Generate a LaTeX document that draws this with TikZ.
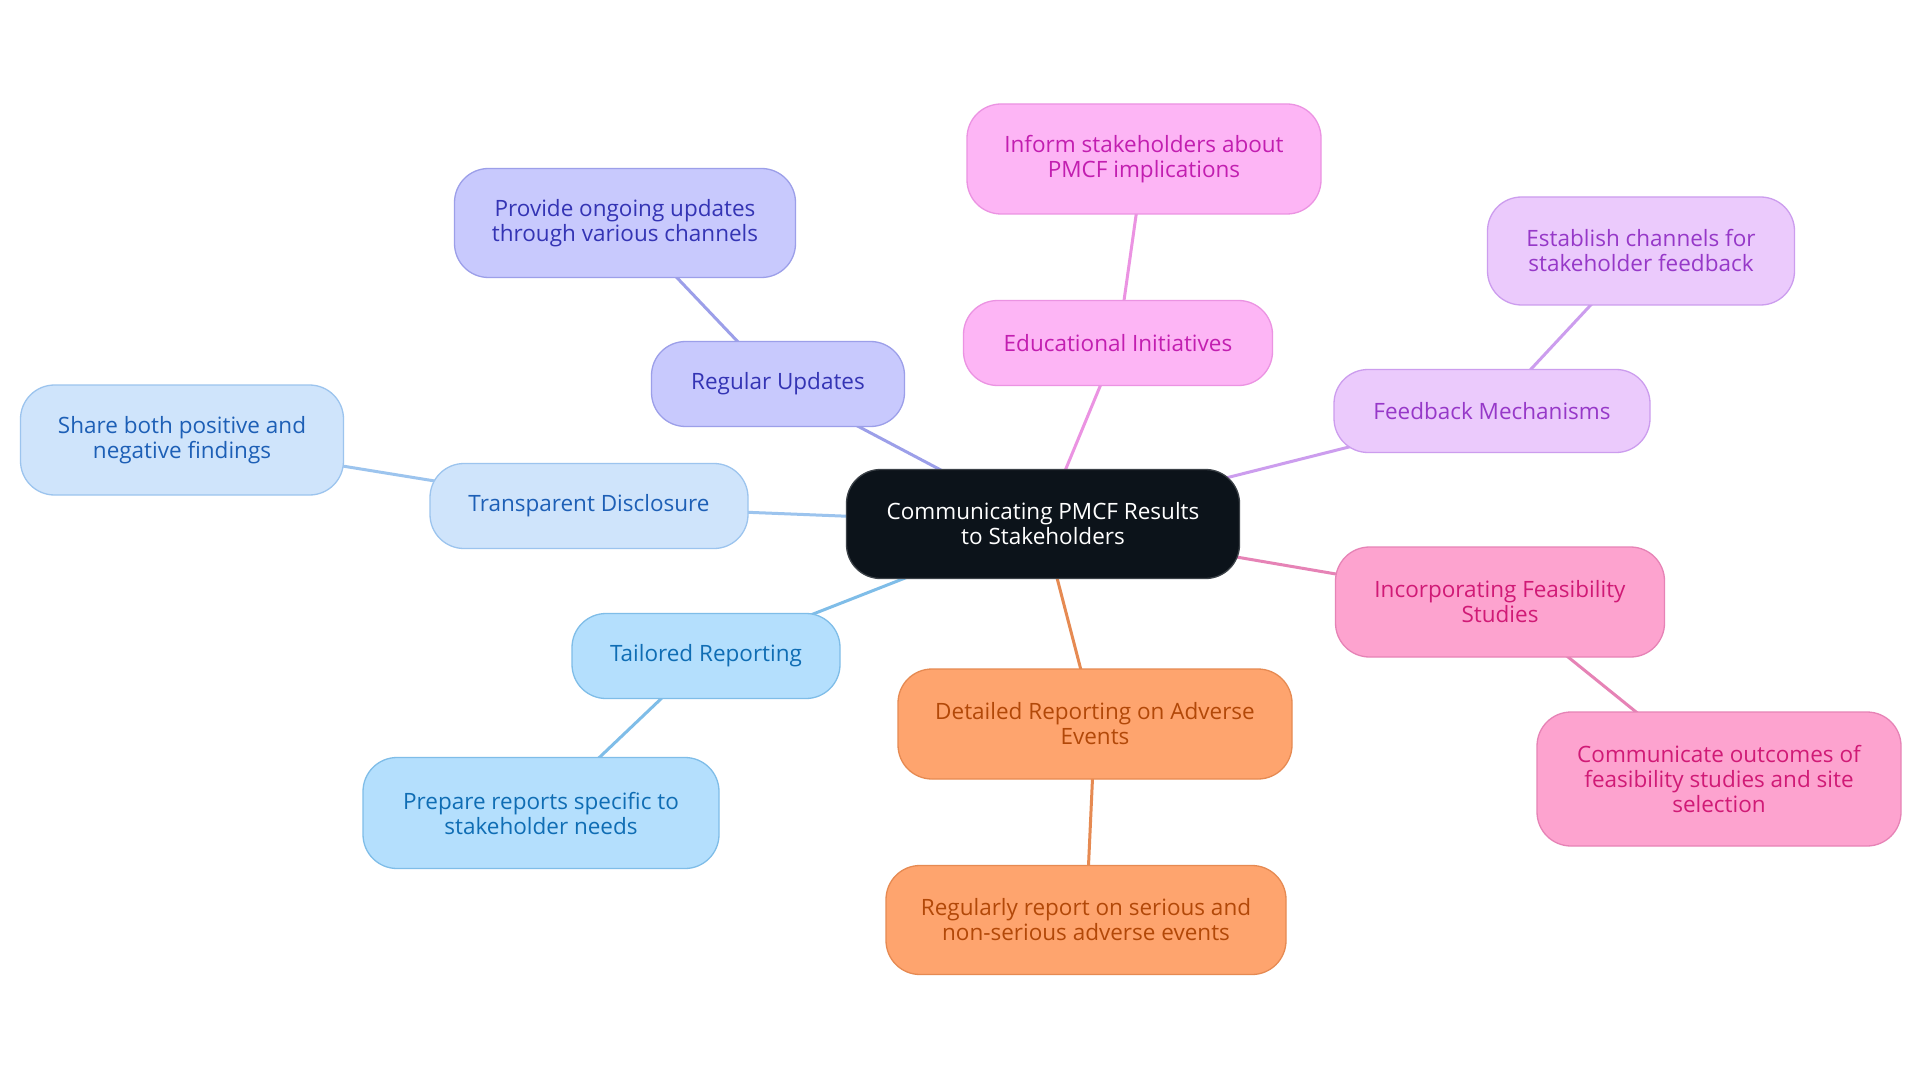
\documentclass[tikz,border=0pt]{standalone}
\usepackage{fontspec}
\setmainfont{Open Sans}
\usetikzlibrary{backgrounds}
\definecolor{cfill}{HTML}{0C131A}\definecolor{cbord}{HTML}{3C4248}
\definecolor{rufill}{HTML}{C8C9FD}\definecolor{rubord}{HTML}{9C9FE9}\definecolor{rutext}{HTML}{3434B4}
\definecolor{tdfill}{HTML}{CFE4FB}\definecolor{tdbord}{HTML}{9CC4EE}\definecolor{tdtext}{HTML}{1D5FB6}
\definecolor{trfill}{HTML}{B4DFFD}\definecolor{trbord}{HTML}{7FBDE8}\definecolor{trtext}{HTML}{0F6DB4}
\definecolor{edfill}{HTML}{FDB5F5}\definecolor{edbord}{HTML}{EB93E2}\definecolor{edtext}{HTML}{C21EB0}
\definecolor{fbfill}{HTML}{EBCAFC}\definecolor{fbbord}{HTML}{CC9DEE}\definecolor{fbtext}{HTML}{9638C8}
\definecolor{iffill}{HTML}{FDA3CF}\definecolor{ifbord}{HTML}{E683B6}\definecolor{iftext}{HTML}{D01A76}
\definecolor{drfill}{HTML}{FEA46E}\definecolor{drbord}{HTML}{E68A52}\definecolor{drtext}{HTML}{B24808}
\tikzset{
  x=1pt, y=-1pt,
  box/.style={rounded corners=34pt, line width=1.3pt, align=center, inner sep=0pt,
    font=\fontsize{22.5}{25}\selectfont},
  boxc/.style={box, fill=cfill, draw=cbord, text=white},
  boxru/.style={box, fill=rufill, draw=rubord, text=rutext},
  boxtd/.style={box, fill=tdfill, draw=tdbord, text=tdtext},
  boxtr/.style={box, fill=trfill, draw=trbord, text=trtext},
  boxed/.style={box, fill=edfill, draw=edbord, text=edtext},
  boxfb/.style={box, fill=fbfill, draw=fbbord, text=fbtext},
  boxif/.style={box, fill=iffill, draw=ifbord, text=iftext},
  boxdr/.style={box, fill=drfill, draw=drbord, text=drtext},
  link/.style={line width=3pt}
}
\begin{document}
\begin{tikzpicture}
\useasboundingbox (0,0) rectangle (1920,1083);
\node[boxc, minimum width=393pt, minimum height=109pt] (c) at (1043,524) {Communicating PMCF Results\\to Stakeholders};
\node[boxru, minimum width=253pt, minimum height=85pt] (ru) at (778,384) {Regular Updates};
\node[boxru, minimum width=341pt, minimum height=109pt] (ru1) at (625,223) {Provide ongoing updates\\through various channels};
\node[boxtd, minimum width=318pt, minimum height=85pt] (td) at (589,506) {Transparent Disclosure};
\node[boxtd, minimum width=323pt, minimum height=110pt] (td1) at (182,440) {Share both positive and\\negative findings};
\node[boxtr, minimum width=268pt, minimum height=85pt] (tr) at (706,656) {Tailored Reporting};
\node[boxtr, minimum width=356pt, minimum height=111pt] (tr1) at (541,813) {Prepare reports specific to\\stakeholder needs};
\node[boxed, minimum width=309pt, minimum height=85pt] (ed) at (1118,343) {Educational Initiatives};
\node[boxed, minimum width=354pt, minimum height=110pt] (ed1) at (1144,159) {Inform stakeholders about\\PMCF implications};
\node[boxfb, minimum width=316pt, minimum height=83pt] (fb) at (1492,411) {Feedback Mechanisms};
\node[boxfb, minimum width=307pt, minimum height=108pt] (fb1) at (1641,251) {Establish channels for\\stakeholder feedback};
\node[boxif, minimum width=329pt, minimum height=110pt] (if) at (1500,602) {Incorporating Feasibility\\Studies};
\node[boxif, minimum width=364pt, minimum height=134pt] (if1) at (1719,779) {Communicate outcomes of\\feasibility studies and site\\selection};
\node[boxdr, minimum width=394pt, minimum height=110pt] (dr) at (1095,724) {Detailed Reporting on Adverse\\Events};
\node[boxdr, minimum width=400pt, minimum height=109pt] (dr1) at (1086,920) {Regularly report on serious and\\non-serious adverse events};
\begin{scope}[on background layer]
\fill[white] (0,0) rectangle (1920,1083);
\draw[link, draw=rubord] (c.center) -- (ru.center) -- (ru1.center);
\draw[link, draw=tdbord] (c.center) -- (td.center) -- (td1.center);
\draw[link, draw=trbord] (c.center) -- (tr.center) -- (tr1.center);
\draw[link, draw=edbord] (c.center) -- (ed.center) -- (ed1.center);
\draw[link, draw=fbbord] (c.center) -- (fb.center) -- (fb1.center);
\draw[link, draw=ifbord] (c.center) -- (if.center) -- (if1.center);
\draw[link, draw=drbord] (c.center) -- (dr.center) -- (dr1.center);
\end{scope}
\end{tikzpicture}
\end{document}
